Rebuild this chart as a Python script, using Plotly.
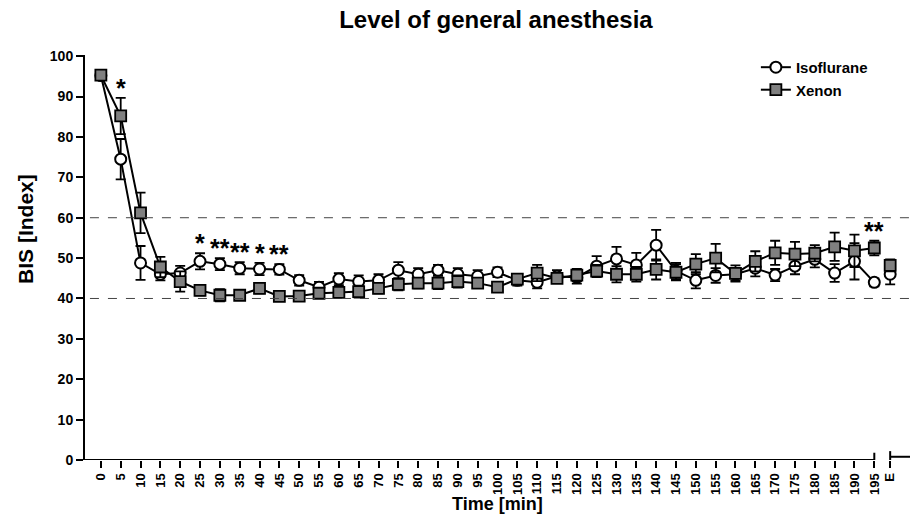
import plotly.graph_objects as go

# ---- data ----
time_labels = [str(t) for t in range(0, 200, 5)] + ["E"]
time_pos = list(range(0, 200, 5)) + [199]

iso_mean = [95.2, 74.5, 48.8, 46.0, 46.3, 49.2, 48.5, 47.5, 47.3, 47.2,
            44.5, 42.8, 44.8, 44.2, 44.5, 47.0, 46.0, 47.0, 46.0, 45.5,
            46.5, 44.5, 44.0, 45.5, 45.2, 48.0, 49.8, 48.3, 53.2, 46.8,
            44.5, 45.7, 46.0, 47.5, 45.8, 48.0, 49.7, 46.3, 49.2, 44.0,
            46.0]
iso_sem = [0.5, 5.0, 4.2, 1.5, 1.8, 2.0, 1.5, 1.5, 1.5, 1.3,
           1.3, 1.3, 1.5, 1.5, 1.5, 2.0, 1.5, 1.3, 1.5, 1.5,
           1.2, 1.3, 1.5, 1.5, 1.5, 2.5, 3.0, 3.0, 3.8, 2.0,
           2.0, 1.8, 1.5, 2.0, 1.5, 2.0, 2.0, 2.2, 4.5, 1.0,
           2.5]

xe_mean = [95.3, 85.2, 61.2, 47.8, 44.2, 42.0, 40.8, 40.8, 42.5, 40.5,
           40.6, 41.3, 41.5, 41.7, 42.5, 43.5, 43.8, 43.8, 44.2, 43.8,
           42.8, 44.8, 46.3, 45.0, 45.8, 46.8, 46.0, 46.0, 47.2, 46.5,
           48.5, 50.0, 46.2, 49.2, 51.3, 51.0, 51.2, 52.8, 51.8, 52.5,
           48.2]
xe_sem = [0.5, 4.5, 5.0, 2.5, 2.5, 1.2, 1.5, 1.0, 1.2, 0.5,
          0.8, 1.0, 1.2, 1.5, 1.2, 1.5, 1.3, 1.5, 1.5, 1.2,
          1.2, 1.0, 2.0, 1.2, 1.5, 1.5, 2.0, 1.8, 2.5, 2.0,
          2.5, 3.5, 2.0, 2.5, 3.0, 3.0, 2.0, 3.5, 4.0, 1.8,
          1.5]

sig_times = ["5", "25", "30", "35", "40", "45", "195"]
sig_marks = ["*", "*", "**", "**", "*", "**", "**"]

y_ticks = list(range(0, 101, 10))
ref_lines = [40, 60]

FONT = "Liberation Sans, Arial, sans-serif"

fig = go.Figure()

def add_series(name, mean, sem, marker):
    n = len(mean) - 1  # last point (E) is drawn unconnected
    fig.add_trace(go.Scatter(
        x=time_pos[:n], y=mean[:n], name=f"<b>{name}</b>", mode="lines+markers",
        line=dict(color="black", width=2),
        marker=marker,
        error_y=dict(type="data", array=sem[:n], color="black", thickness=1.8, width=5),
        showlegend=True, legendgroup=name))
    fig.add_trace(go.Scatter(
        x=time_pos[n:], y=mean[n:], name=name, mode="markers",
        marker=marker,
        error_y=dict(type="data", array=sem[n:], color="black", thickness=1.8, width=5),
        showlegend=False, legendgroup=name))

add_series("Isoflurane", iso_mean, iso_sem,
           dict(symbol="circle", size=11, color="white", line=dict(color="black", width=2)))
add_series("Xenon", xe_mean, xe_sem,
           dict(symbol="square", size=11, color="#808080", line=dict(color="black", width=1.8)))

# significance asterisks
for t, m in zip(sig_times, sig_marks):
    i = time_labels.index(t)
    top = max(iso_mean[i] + iso_sem[i], xe_mean[i] + xe_sem[i])
    fig.add_annotation(x=time_pos[i], y=top, text=f"<b>{m}</b>", showarrow=False,
                       yanchor="bottom", yshift=-6,
                       font=dict(family=FONT, size=25, color="black"))

# dashed reference lines
for v in ref_lines:
    fig.add_shape(type="line", xref="paper", yref="y", x0=0.006, x1=1, y0=v, y1=v,
                  line=dict(color="#444444", width=1, dash="dash"))

# broken x axis line
fig.add_shape(type="line", xref="x", yref="y", x0=-4, x1=195, y0=0, y1=0,
              line=dict(color="black", width=2))
fig.add_shape(type="line", xref="x", yref="y", x0=195, x1=195, y0=-1.2, y1=1.8,
              line=dict(color="black", width=2))
fig.add_shape(type="line", xref="x", yref="y", x0=time_pos[-1], x1=204, y0=0.8, y1=0.8,
              line=dict(color="black", width=2))
fig.add_shape(type="line", xref="x", yref="y", x0=time_pos[-1], x1=time_pos[-1], y0=-0.8, y1=2.2,
              line=dict(color="black", width=2))

# y axis title (placed like the original, slightly above centre)
fig.add_annotation(xref="paper", yref="paper", x=-0.073, y=0.57, text="<b>BIS [Index]</b>",
                   textangle=-90, showarrow=False, xanchor="center", yanchor="middle",
                   font=dict(family=FONT, size=21, color="black"))

# x axis title
fig.add_annotation(xref="paper", yref="paper", x=0.5, y=-0.108, text="<b>Time [min]</b>",
                   showarrow=False, xanchor="center", yanchor="middle",
                   font=dict(family=FONT, size=18, color="black"))

fig.update_layout(
    width=910, height=515,
    margin=dict(l=85, r=0, t=55, b=55),
    paper_bgcolor="white", plot_bgcolor="white",
    title=dict(text="<b>Level of general anesthesia</b>", x=0.545, xanchor="center",
               y=0.962, yanchor="middle",
               font=dict(family=FONT, size=24, color="black")),
    font=dict(family=FONT, color="black"),
    showlegend=True,
    legend=dict(x=0.955, y=1.01, xanchor="right", yanchor="top",
                bgcolor="rgba(0,0,0,0)", font=dict(family=FONT, size=15, color="black"),
                itemwidth=30, tracegroupgap=0),
    xaxis=dict(range=[-4, 204], tickvals=time_pos, ticktext=[f"<b>{s}</b>" for s in time_labels],
               tickangle=-90, ticks="outside", ticklen=7, tickwidth=2, tickcolor="black",
               showline=False, showgrid=False, zeroline=False,
               tickfont=dict(family=FONT, size=13, color="black")),
    yaxis=dict(range=[0, 100.3], tickvals=y_ticks, ticktext=[f"<b>{v}</b>" for v in y_ticks],
               ticks="outside", ticklen=7, tickwidth=2, tickcolor="black",
               showline=True, linewidth=2, linecolor="black",
               showgrid=False, zeroline=False,
               tickfont=dict(family=FONT, size=14, color="black")),
)

fig.write_html("out.html")
